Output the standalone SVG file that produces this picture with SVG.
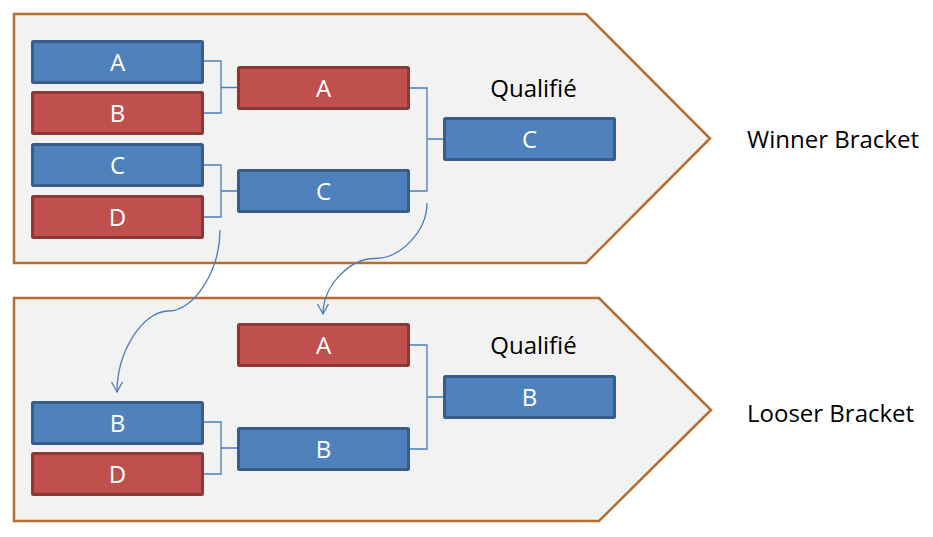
<svg xmlns="http://www.w3.org/2000/svg" width="933" height="537" viewBox="0 0 933 537">
  <style>
    .panel { fill: #F2F2F2; stroke: #B66D31; stroke-width: 2.5; }
    .blue rect { fill: #4F81BD; stroke: #385D8A; stroke-width: 3; }
    .red rect { fill: #C0504D; stroke: #8C3836; stroke-width: 3; }
    .node text { fill: #FFFFFF; font-family: "Open Sans", "Liberation Sans", sans-serif; font-size: 24px; text-anchor: middle; }
    .label { fill: #000000; font-family: "Open Sans", "Liberation Sans", sans-serif; font-size: 24px; }
    .qual { text-anchor: middle; }
    .bracket { fill: none; stroke: #4A7EBB; stroke-width: 1.3; }
    .curve { fill: none; stroke: #4A7EBB; stroke-width: 1.3; marker-end: url(#openArrow); }
  </style>
  <defs>
    <marker id="openArrow" markerUnits="userSpaceOnUse" markerWidth="16" markerHeight="16" refX="0" refY="0" viewBox="-12 -8 14 16" orient="auto">
      <path d="M-10,-5.5 L0,0 L-10,5.5" fill="none" stroke="#4A7EBB" stroke-width="1.3"/>
    </marker>
  </defs>

  <g id="winner-panel">
    <polygon class="panel" points="14,14 586,14 710,138.5 586,263 14,263"/>
    <text class="label" x="747" y="148">Winner Bracket</text>
    <text class="label qual" x="533.5" y="96.5">Qualifié</text>
  </g>
  <g id="looser-panel">
    <polygon class="panel" points="14,298 599,298 711,410 599,521 14,521"/>
    <text class="label" x="747" y="421.5">Looser Bracket</text>
    <text class="label qual" x="533.5" y="354">Qualifié</text>
  </g>

  <g id="connectors">
    <path class="bracket" d="M204,61 H221 V113 H204 M221,87.5 H237"/>
    <path class="bracket" d="M204,165 H221 V217 H204 M221,191 H237"/>
    <path class="bracket" d="M410,88 H427 V191 H410 M427,139 H443"/>
    <path class="bracket" d="M204,422 H221 V474 H204 M221,448 H237"/>
    <path class="bracket" d="M410,345 H427 V449 H410 M427,397 H443"/>
    <path class="curve" d="M220,230 C220,270.5 194.25,311 168.5,311 C142.75,311 117,351.5 117,392"/>
    <path class="curve" d="M427,203 C427,230.75 401,258.5 375,258.5 C349,258.5 323,286.25 323,314"/>
  </g>

  <g id="w-r1-a" class="node blue"><rect x="32.5" y="41.5" width="170" height="41" rx="1"/><text x="117.5" y="70.5">A</text></g>
  <g id="w-r1-b" class="node red"><rect x="32.5" y="92.5" width="170" height="41" rx="1"/><text x="117.5" y="121.5">B</text></g>
  <g id="w-r1-c" class="node blue"><rect x="32.5" y="144.5" width="170" height="41" rx="1"/><text x="117.5" y="173.5">C</text></g>
  <g id="w-r1-d" class="node red"><rect x="32.5" y="196.5" width="170" height="41" rx="1"/><text x="117.5" y="225.5">D</text></g>
  <g id="w-r2-a" class="node red"><rect x="238.5" y="67.5" width="170" height="41" rx="1"/><text x="323.5" y="96.5">A</text></g>
  <g id="w-r2-c" class="node blue"><rect x="238.5" y="170.5" width="170" height="41" rx="1"/><text x="323.5" y="199.5">C</text></g>
  <g id="w-qual-c" class="node blue"><rect x="444.5" y="118.5" width="170" height="41" rx="1"/><text x="529.5" y="147.5">C</text></g>

  <g id="l-r2-a" class="node red"><rect x="238.5" y="324.5" width="170" height="41" rx="1"/><text x="323.5" y="353.5">A</text></g>
  <g id="l-r1-b" class="node blue"><rect x="32.5" y="402.5" width="170" height="41" rx="1"/><text x="117.5" y="431.5">B</text></g>
  <g id="l-r1-d" class="node red"><rect x="32.5" y="453.5" width="170" height="41" rx="1"/><text x="117.5" y="482.5">D</text></g>
  <g id="l-r2-b" class="node blue"><rect x="238.5" y="428.5" width="170" height="41" rx="1"/><text x="323.5" y="457.5">B</text></g>
  <g id="l-qual-b" class="node blue"><rect x="444.5" y="376.5" width="170" height="41" rx="1"/><text x="529.5" y="405.5">B</text></g>
</svg>
